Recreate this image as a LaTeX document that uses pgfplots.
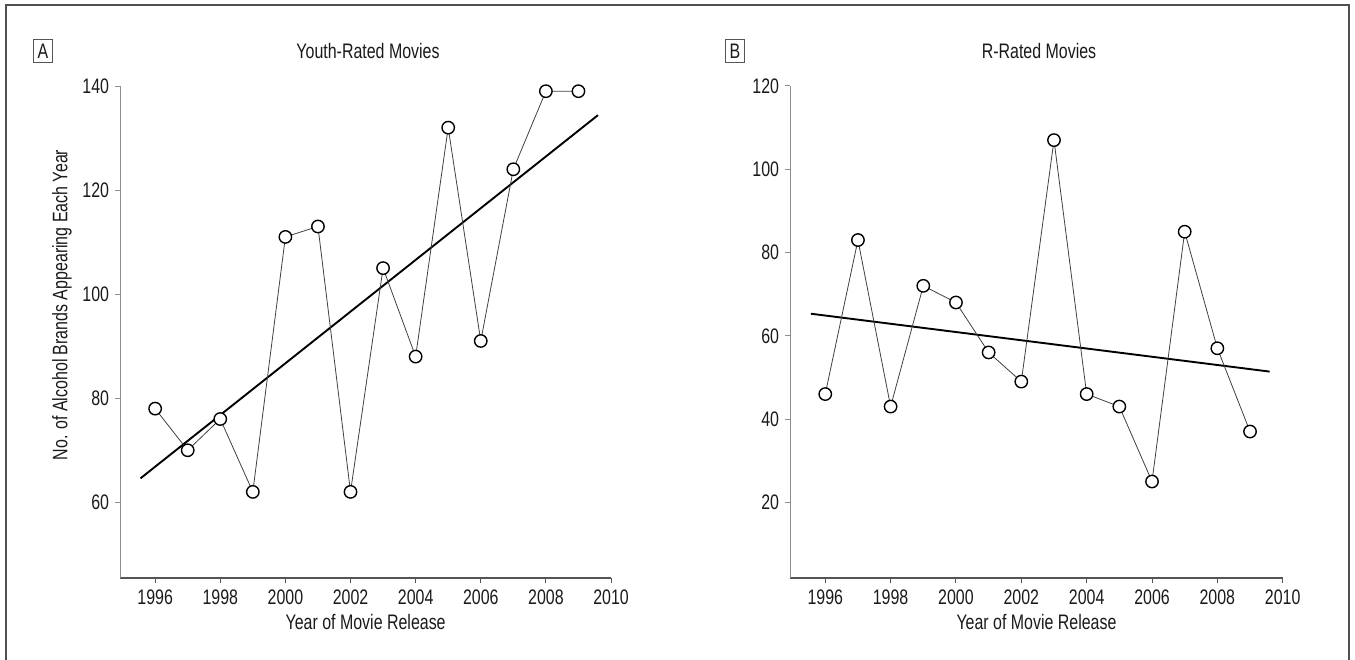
\documentclass[border=0pt]{standalone}
\usepackage{fontspec}
\setmainfont{Liberation Sans}[FakeStretch=0.76]
\usepackage{pgfplots}
\pgfplotsset{compat=1.18}

\definecolor{axgray}{HTML}{8E8E8E}
\definecolor{axdark}{HTML}{555555}
\definecolor{lngray}{HTML}{404040}
\definecolor{framegray}{HTML}{505050}
\definecolor{txt}{HTML}{1A1A1A}

\pgfplotsset{
  panel/.style={
    scale only axis,
    clip=false,
    axis x line*=bottom,
    axis y line*=left,
    x axis line style={-, axdark, line width=1.2pt},
    y axis line style={-, axgray, line width=1.6pt},
    tick align=outside,
    major tick length=5pt,
    xtick style={axdark, line width=1pt},
    ytick style={axgray, line width=1pt},
    xmin=1994.93, xmax=2010,
    xtick={1996,1998,...,2010},
    /pgf/number format/1000 sep={},
    /pgf/number format/assume math mode=true,
    tick label style={font=\fontsize{21}{24}\selectfont, text=txt},
    yticklabel style={xshift=1pt},
    label style={font=\fontsize{21}{24}\selectfont, text=txt},
    xlabel={Year of Movie Release},
    xlabel style={at={(axis description cs:0.5,0)}, anchor=center, yshift=-44pt},
    height=492pt,
  },
  trend/.style={black, line width=1.9pt, no marks},
  series/.style={lngray, line width=0.8pt, mark=*, mark size=6.2pt,
    mark options={fill=white, draw=black, line width=1.4pt}},
}

\begin{document}
\fontsize{21}{24}\selectfont
\begin{tikzpicture}
% Panel A
\begin{axis}[panel,
  at={(120.3pt,-578pt)}, anchor=south west,
  width=490.7pt,
  ymin=45.45, ymax=140,
  ytick={60,80,...,140},
]
\addplot[trend] coordinates {(1995.55,64.6) (2009.6,134.4)};
\addplot[series] coordinates {
(1996,78) (1997,70) (1998,76) (1999,62) (2000,111) (2001,113) (2002,62)
(2003,105) (2004,88) (2005,132) (2006,91) (2007,124) (2008,139) (2009,139)};
\end{axis}
% Panel B
\begin{axis}[panel,
  at={(790.3pt,-578pt)}, anchor=south west,
  width=492.4pt,
  ymin=1.82, ymax=120,
  ytick={20,40,...,120},
]
\addplot[trend] coordinates {(1995.56,65.3) (2009.6,51.4)};
\addplot[series] coordinates {
(1996,46) (1997,83) (1998,43) (1999,72) (2000,68) (2001,56) (2002,49)
(2003,107) (2004,46) (2005,43) (2006,25) (2007,85) (2008,57) (2009,37)};
\end{axis}
% titles and labels
\node[text=txt] at (368pt,-51pt) {Youth-Rated Movies};
\node[text=txt] at (1039pt,-51pt) {R-Rated Movies};
\node[rotate=90, text=txt] at (62pt,-305pt) {No. of Alcohol Brands Appearing Each Year};
\node[draw=axdark, line width=0.8pt, minimum width=19pt, minimum height=23pt, inner sep=0pt, text=txt] at (43pt,-51pt) {A};
\node[draw=axdark, line width=0.8pt, minimum width=19pt, minimum height=23pt, inner sep=0pt, text=txt] at (735pt,-51pt) {B};
% frame
\draw[framegray, line width=2pt] (6pt,-662pt) -- (6pt,-5pt) -- (1349pt,-5pt) -- (1349pt,-662pt);
\pgfresetboundingbox
\useasboundingbox (0pt,0pt) rectangle (1355pt,-660pt);
\end{tikzpicture}
\end{document}
